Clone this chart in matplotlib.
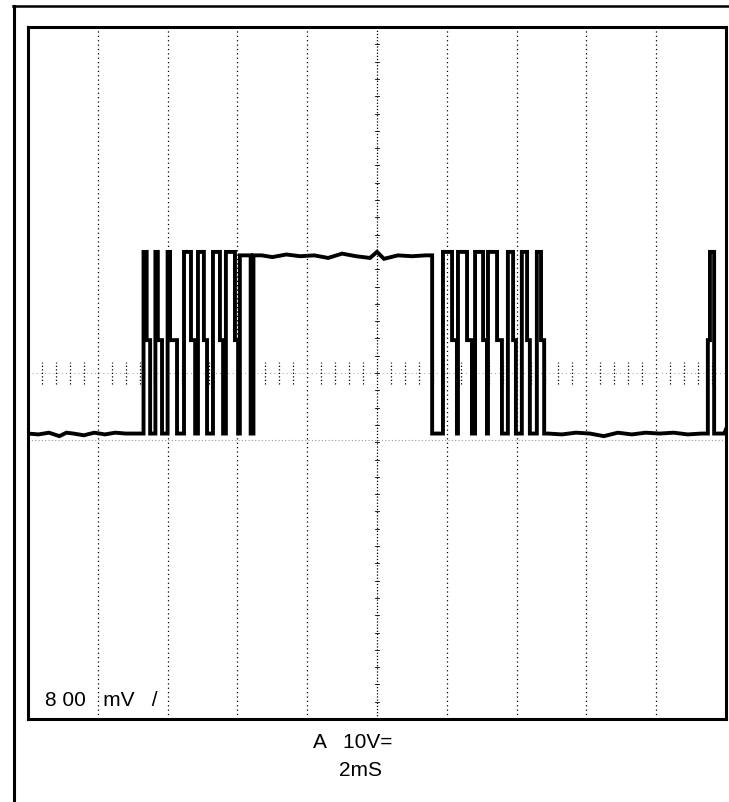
import numpy as np
import matplotlib.pyplot as plt
from matplotlib.lines import Line2D

# Scope settings (10 V/div vertical, 2 ms/div horizontal)
V_PER_DIV = 10
MS_PER_DIV = 2
N_XDIV, N_YDIV = 10, 8

# Levels of the trace (V)
LOW_V = -7.0
MID_V = 3.8
TOP_V = 14.0
HIGH_V = 13.6
GROUND_V = -7.8

# Baseline ripple before the burst
low_left_t = [0.0, 0.3, 0.6, 0.9, 1.1, 1.3, 1.6, 1.9, 2.2, 2.5, 2.8, 3.0, 3.25]
low_left_v = [-7.0, -7.1, -6.9, -7.3, -6.9, -7.0, -7.2, -6.9, -7.1, -6.9, -7.0, -7.0, -7.0]

# Leading burst: (rise to top, drop to mid, drop to low) ms
left_pulses = [(3.31, 3.40, 3.50), (3.65, 3.72, 3.84), (4.00, 4.07, 4.27),
               (4.47, 4.67, 4.79), (4.87, 5.04, 5.13), (5.30, 5.50, 5.59),
               (5.67, 5.93, 6.02)]

# Long high plateau with a short dip after its start
high_on, dip_down, dip_up, high_off = 6.07, 6.38, 6.46, 11.58
high_t = [6.7, 7.0, 7.4, 7.8, 8.2, 8.6, 9.0, 9.4, 9.8, 10.0, 10.2, 10.6, 11.0, 11.4]
high_v = [13.6, 13.4, 13.7, 13.5, 13.6, 13.3, 13.8, 13.5, 13.3, 14.0, 13.2, 13.6, 13.5, 13.6]

# Trailing burst: (rise to top, drop to mid, drop to low) ms
right_pulses = [(11.89, 12.15, 12.29), (12.32, 12.58, 12.72), (12.81, 13.04, 13.15),
                (13.18, 13.44, 13.58), (13.75, 13.90, 13.98), (14.15, 14.30, 14.38),
                (14.58, 14.70, 14.79)]

# Baseline ripple after the burst
low_right_t = [14.9, 15.3, 15.7, 16.1, 16.5, 16.9, 17.3, 17.7, 18.1, 18.5, 18.9, 19.3, 19.45]
low_right_v = [-7.0, -7.1, -6.9, -7.0, -7.3, -6.9, -7.1, -6.9, -7.0, -6.9, -7.1, -7.0, -7.0]

# Isolated spike near the end: (rise to mid, rise to top, drop to low) ms
spike = (19.48, 19.54, 19.66)
end_t = [19.8, 19.95, 20.0]
end_v = [-7.0, -7.0, -6.5]


def add_pulse(pts, on, off, low):
    pts += [(on, LOW_V), (on, TOP_V), (off, TOP_V), (off, MID_V), (low, MID_V), (low, LOW_V)]


pts = list(zip(low_left_t, low_left_v))
for p in left_pulses:
    add_pulse(pts, *p)
pts += [(high_on, LOW_V), (high_on, HIGH_V), (dip_down, HIGH_V), (dip_down, LOW_V),
        (dip_up, LOW_V), (dip_up, HIGH_V)]
pts += list(zip(high_t, high_v))
pts += [(high_off, HIGH_V), (high_off, LOW_V)]
for p in right_pulses:
    add_pulse(pts, *p)
pts += list(zip(low_right_t, low_right_v))
pts += [(spike[0], LOW_V), (spike[0], MID_V), (spike[1], MID_V), (spike[1], TOP_V),
        (spike[2], TOP_V), (spike[2], LOW_V)]
pts += list(zip(end_t, end_v))
t, v = np.array(pts).T

W, H = 729, 802
fig = plt.figure(figsize=(W / 100, H / 100), dpi=100)
ax = fig.add_axes([28 / W, (H - 719) / H, 698 / W, 692 / H])

xmax = N_XDIV * MS_PER_DIV
ymax = N_YDIV / 2 * V_PER_DIV
ax.set_xlim(0, xmax)
ax.set_ylim(-ymax, ymax)

# graticule
for i in range(1, N_XDIV):
    ax.axvline(i * MS_PER_DIV, color='black', lw=0.9,
               ls=(0, (1, 2.5)) if i != 5 else (0, (1, 1.5)))
ax.axhline(0, color='0.5', lw=0.6, ls=(0, (1, 4)))
ax.axhline(GROUND_V, color='0.6', lw=0.8, ls=(0, (1, 2)))
# minor ticks along the centre axes
for xm in np.arange(0.4, xmax, 0.4):
    if abs(xm / MS_PER_DIV - round(xm / MS_PER_DIV)) > 0.01:
        ax.plot([xm, xm], [-1.3, 1.3], color='black', lw=0.9, ls=(0, (1, 1.8)))
for ym in np.arange(-ymax + 2, ymax, 2):
    ax.plot([xmax / 2 - 0.06, xmax / 2 + 0.06], [ym, ym], color='black', lw=0.6)

ax.plot(t, v, color='black', lw=2.8, solid_joinstyle='miter')

ax.set_xticks([])
ax.set_yticks([])
for s in ax.spines.values():
    s.set_linewidth(2.2)

ax.text(17 / 698, 1 - (700 - 27) / 692, "8 00   mV   /", transform=ax.transAxes,
        fontsize=15, family='Liberation Sans', va='center', ha='left')

fig.text(353 / W, 1 - 742 / H, "A   10V=", fontsize=15, family='Liberation Sans',
         ha='center', va='center')
fig.text(361 / W, 1 - 770 / H, "2mS", fontsize=15, family='Liberation Sans',
         ha='center', va='center')

# outer frame of the screen capture
fig.add_artist(Line2D([14 / W, 14 / W], [0, 1 - 6 / H], color='black', lw=2.2))
fig.add_artist(Line2D([13 / W, 1], [1 - 6 / H, 1 - 6 / H], color='black', lw=1.8))

fig.savefig('out.png', dpi=100)
